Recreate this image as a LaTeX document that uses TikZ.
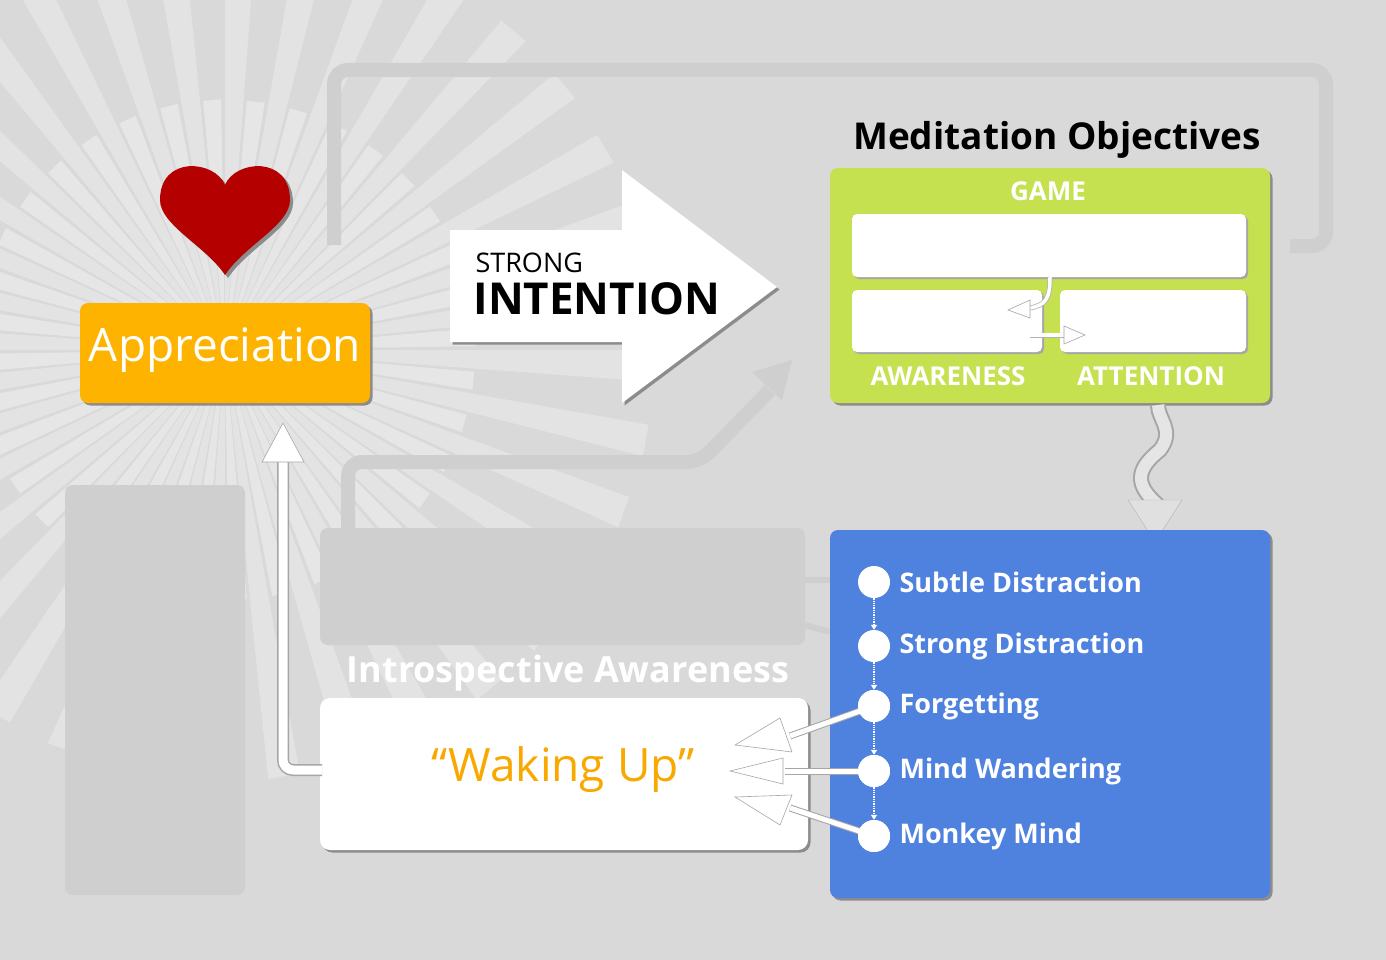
\documentclass[tikz,border=0pt]{standalone}
\usepackage{fontspec}
\setmainfont{Open Sans}
\usetikzlibrary{arrows.meta,decorations.pathmorphing}
\definecolor{bg}{HTML}{D9D9D9}
\definecolor{faint}{HTML}{CFCFCF}
\definecolor{orangeA}{HTML}{FDB300}
\definecolor{greenA}{HTML}{C5E150}
\definecolor{blueA}{HTML}{4F81DF}
\definecolor{heartR}{HTML}{B50000}
\definecolor{waking}{HTML}{F9A800}
\tikzset{
  shadowed/.style={preaction={fill=black!45,transform canvas={shift={(2.5pt,-2.5pt)}}}},
  panel/.style={rounded corners=8pt,shadowed},
  wbox/.style={fill=white,rounded corners=5pt,preaction={fill=black!35,transform canvas={shift={(2pt,-2pt)}}}},
  dot/.style={circle,fill=white,minimum size=32pt,inner sep=0pt},
  lab/.style={anchor=west,text=white,font=\bfseries\fontsize{27}{30}\selectfont},
  ghost/.style={draw=faint,line width=14pt,rounded corners=14pt},
  hollow/.style={draw=black!35,line width=0.6pt,fill=white},
  dots/.style={white,densely dotted,line width=1.3pt,-{Triangle[width=6pt,length=5pt]}}
}
\begin{document}
\begin{tikzpicture}[x=1pt,y=-1pt]
\useasboundingbox (0,0) rectangle (1386,960);
\fill[bg] (0,0) rectangle (1386,960);
% sunburst
\foreach \a in {0,10,...,350}{
  \fill[white,opacity=0.28] (225,350) -- ++(\a:430) -- ++(\a+90:32) -- cycle;
  \fill[white,opacity=0.35] (225,350) -- ++(\a+5:250) -- ++(\a+95:18) -- cycle;
}
% ghost shapes
\draw[ghost] (334,245) -- (334,70) -- (1326,70) -- (1326,246) -- (1290,246);
\draw[ghost] (348,540) -- (348,462) -- (700,462) -- (770,390);
\fill[faint] (752,372) -- (792,360) -- (782,400) -- cycle;
\fill[faint,rounded corners=8pt] (65,485) rectangle (245,895);
\fill[faint,rounded corners=8pt] (320,528) rectangle (805,645);
\draw[faint,line width=6pt] (805,580) -- (830,580) (805,625) -- (830,632);
% heart
\node (heart) at (225,215) {};
\begin{scope}[shift={(225,215)}]
\fill[black!45,shift={(3,3)}] (0,60) .. controls (-20,30) and (-65,10) .. (-65,-15) .. controls (-65,-60) and (-10,-55) .. (0,-30) .. controls (10,-55) and (65,-60) .. (65,-15) .. controls (65,10) and (20,30) .. (0,60) -- cycle;
\fill[heartR] (0,60) .. controls (-20,30) and (-65,10) .. (-65,-15) .. controls (-65,-60) and (-10,-55) .. (0,-30) .. controls (10,-55) and (65,-60) .. (65,-15) .. controls (65,10) and (20,30) .. (0,60) -- cycle;
\end{scope}
% appreciation
\fill[orangeA,panel] (80,303) rectangle (370,403);
\node[text=white,font=\fontsize{46}{50}\selectfont] (appr) at (225,350) {Appreciation};
% big arrow
\fill[white,preaction={fill=black!45,transform canvas={shift={(2.5pt,-2.5pt)}}}] (450,230) -- (622,230) -- (622,170) -- (777,287) -- (622,403) -- (622,342) -- (450,342) -- cycle;
\node[anchor=base west,font=\fontsize{27}{30}\selectfont] (strong) at (472,272) {STRONG};
\node[anchor=base west,font=\bfseries\fontsize{44}{48}\selectfont] (intent) at (470,314) {INTENTION};
% objectives
\node[font=\bfseries\fontsize{37}{40}\selectfont] (obj) at (1057,140) {Meditation Objectives};
\fill[greenA,panel] (830,168) rectangle (1270,403);
\node[text=white,font=\bfseries\fontsize{26}{30}\selectfont] (game) at (1048,191) {GAME};
\fill[wbox] (852,214) rectangle (1246,277);
\fill[wbox] (852,290) rectangle (1042,352);
\fill[wbox] (1060,290) rectangle (1246,352);
\node (aw) at (948,376) [text=white,font=\bfseries\fontsize{26}{30}\selectfont] {AWARENESS};
\node (att) at (1151,376) [text=white,font=\bfseries\fontsize{26}{30}\selectfont] {ATTENTION};
\draw[black!30,line width=5pt] (1050,277) .. controls (1050,300) and (1045,305) .. (1030,308);
\draw[white,line width=3.5pt] (1050,277) .. controls (1050,300) and (1045,305) .. (1030,308);
\fill[hollow] (1030,300) -- (1008,310) -- (1030,318) -- cycle;
\draw[black!30,line width=5pt] (1030,335) -- (1066,335);
\draw[white,line width=3.5pt] (1030,335) -- (1066,335);
\fill[hollow] (1064,326) -- (1085,335) -- (1064,344) -- cycle;
% squiggle
\coordinate (sq0) at (1158,405);
\coordinate (sq1) at (1158,505);
\draw[black!35,line width=16pt] (sq0) .. controls (1158,420) and (1175,430) .. (1160,450) .. controls (1135,470) and (1135,485) .. (sq1);
\draw[white!90!black,line width=12pt] (sq0) .. controls (1158,420) and (1175,430) .. (1160,450) .. controls (1135,470) and (1135,485) .. (sq1);
\fill[white!88!black,draw=black!30] (1128,500) -- (1182,500) -- (1155,542) -- cycle;
% blue box
\fill[blueA,panel] (830,530) rectangle (1270,898);
\foreach \n/\y/\t in {c1/582/Subtle Distraction,c2/646/Strong Distraction,c3/706/Forgetting,c4/771/Mind Wandering,c5/836/Monkey Mind}{
  \node[dot] (\n) at (874,\y) {};
  \node[lab] (\n t) at (896,\y) {\t};
}
\foreach \a/\b in {c1/c2,c2/c3,c3/c4,c4/c5}{ \draw[dots] (\a.south) -- (\b.north); }
% introspective
\node[text=white,font=\bfseries\fontsize{36}{40}\selectfont] (intro) at (568,673) {Introspective Awareness};
\fill[white,panel,rounded corners=10pt] (320,698) rectangle (808,850);
\node[text=waking,font=\fontsize{46}{50}\selectfont] (wake) at (563,770) {“Waking Up”};
% arrows from circles
\coordinate (e3) at (790,736);
\coordinate (e4) at (785,771);
\coordinate (e5) at (790,808);
\foreach \s/\e in {c3/e3,c4/e4,c5/e5}{
  \draw[black!35,line width=7pt] (\s.center) -- (\e);
  \draw[white,line width=5pt] (\s.center) -- (\e);
}
\fill[hollow] (780,718) -- (735,745) -- (792,752) -- cycle;
\fill[hollow] (783,758) -- (730,771) -- (783,784) -- cycle;
\fill[hollow] (792,795) -- (735,797) -- (780,825) -- cycle;
\foreach \n in {c3,c4,c5}{\node[dot] at (\n) {};}
% up arrow
\coordinate (up) at (283,445);
\draw[black!35,line width=12pt,rounded corners=10pt] (322,770) -- (283,770) -- (up);
\draw[white,line width=9pt,rounded corners=10pt] (322,770) -- (283,770) -- (up);
\fill[hollow] (262,462) -- (283,423) -- (304,462) -- cycle;
\end{tikzpicture}
\end{document}
